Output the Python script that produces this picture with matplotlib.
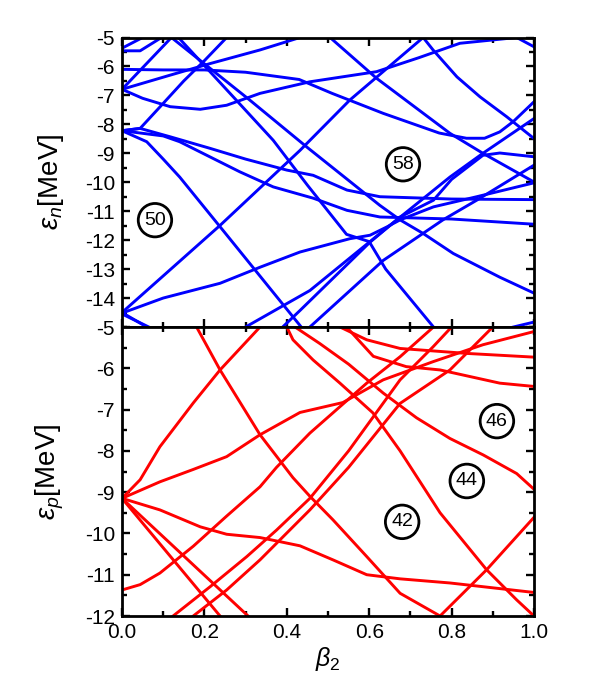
import matplotlib
matplotlib.use("Agg")
import matplotlib.pyplot as plt
from matplotlib.ticker import MultipleLocator, FixedLocator

plt.rcParams['font.family'] = ['Liberation Sans', 'DejaVu Sans']
plt.rcParams['mathtext.fontset'] = 'custom'
plt.rcParams['mathtext.rm'] = 'Liberation Sans'
plt.rcParams['mathtext.it'] = 'Liberation Sans:italic'

# ---------------- neutron levels (top panel) ----------------
n_T1 = [(0.0, -5.37), (0.05, -5.0)]
n_T2 = [(0.0, -5.46), (0.044, -5.46), (0.096, -5.0)]
n_N1 = [(0.0, -6.79), (0.12, -5.0)]
n_N2 = [(0.0, -6.79), (0.117, -6.3), (0.214, -5.9), (0.335, -5.43), (0.432, -5.0)]
n_T3 = [(0.0, -6.1), (0.1, -6.12), (0.2, -6.12), (0.3, -6.2), (0.43, -6.45), (0.51, -6.93),
        (0.634, -7.62), (0.77, -8.3), (0.836, -8.48), (0.88, -8.48), (0.917, -8.26),
        (0.95, -7.9), (1.0, -7.22)]
n_T4 = [(0.0, -6.79), (0.05, -7.1), (0.117, -7.39), (0.19, -7.48), (0.254, -7.34),
        (0.335, -6.93), (0.456, -6.53), (0.618, -6.18), (0.72, -5.7), (0.82, -5.2),
        (0.958, -5.0), (1.0, -5.32)]
n_T5 = [(0.0, -8.22), (0.044, -8.14), (0.092, -7.4), (0.15, -6.5), (0.2, -5.8), (0.254, -5.0)]
n_T6 = [(0.137, -5.0), (0.27, -7.05), (0.367, -8.55), (0.45, -10.1), (0.545, -11.8),
        (0.60, -12.05), (0.64, -13.0), (0.756, -15.0)]
n_T8 = [(0.12, -5.0), (0.31, -7.16), (0.45, -8.8), (0.626, -10.8), (0.675, -11.3),
        (0.731, -11.77), (0.804, -12.46), (0.917, -13.28), (1.0, -13.83)]
n_T9 = [(0.505, -5.0), (0.618, -6.41), (0.796, -8.31), (0.876, -9.0), (1.0, -9.99)]
n_T10 = [(0.731, -5.0), (0.755, -5.43), (0.813, -6.36), (0.869, -7.05), (0.934, -7.74),
         (1.0, -8.49)]
n_A = [(0.0, -14.5), (0.238, -11.49), (0.432, -8.9), (0.553, -7.16), (0.731, -5.0)]
n_B = [(0.0, -14.52), (0.1, -14.0), (0.238, -13.49), (0.336, -12.93), (0.432, -12.41),
       (0.553, -11.95), (0.602, -11.83), (0.642, -11.55), (0.675, -11.3), (0.756, -10.85),
       (0.861, -10.5), (1.0, -10.02)]
n_C = [(0.0, -8.22), (0.06, -8.6), (0.1, -9.2), (0.14, -9.82), (0.245, -11.66), (0.435, -15.0)]
n_F = [(0.0, -8.22), (0.044, -8.14), (0.117, -8.43), (0.214, -8.83), (0.3, -9.2),
       (0.4, -9.58), (0.464, -9.76), (0.546, -10.27), (0.626, -10.5), (0.8, -10.58), (1.0, -10.6)]
n_G = [(0.0, -8.22), (0.1, -8.4), (0.14, -8.6), (0.22, -9.17), (0.286, -9.64), (0.367, -10.16),
       (0.464, -10.55), (0.546, -10.97), (0.626, -11.2), (0.8, -11.27), (1.0, -11.45)]
n_D1 = [(0.0, -14.5), (0.06, -15.0)]
n_D2 = [(0.0, -14.55), (0.065, -15.0)]
n_R1 = [(0.30, -15.0), (0.456, -13.74), (0.626, -11.77), (0.796, -9.82), (0.876, -9.0), (1.0, -7.8)]
n_R2 = [(0.39, -15.0), (0.432, -14.43), (0.602, -12.07), (0.675, -11.2), (0.756, -10.62),
        (0.8, -9.9), (0.876, -9.07), (0.917, -8.99), (1.0, -9.12)]
n_R3 = [(0.456, -15.0), (0.634, -12.7), (0.779, -11.3), (0.861, -10.62), (1.0, -9.41)]
n_R4 = [(0.95, -15.0), (1.0, -14.83)]

neutron_levels = [n_T1, n_T2, n_N1, n_N2, n_T3, n_T4, n_T5, n_T6, n_T8, n_T9, n_T10,
                  n_A, n_B, n_C, n_F, n_G, n_D1, n_D2, n_R1, n_R2, n_R3, n_R4]

# ---------------- proton levels (bottom panel) ----------------
p_P1 = [(0.0, -9.15), (0.044, -8.7), (0.092, -7.9), (0.173, -6.84), (0.238, -6.04), (0.335, -5.0)]
p_P2 = [(0.0, -9.15), (0.092, -8.75), (0.173, -8.45), (0.254, -8.14), (0.335, -7.61),
        (0.432, -7.07), (0.536, -6.83), (0.634, -6.28), (0.755, -5.84), (0.876, -5.43), (1.0, -5.11)]
p_P3 = [(0.0, -9.15), (0.092, -9.43), (0.19, -9.84), (0.254, -10.02), (0.335, -10.1),
        (0.432, -10.3), (0.512, -10.64), (0.594, -11.0), (0.675, -11.1), (0.796, -11.2), (1.0, -11.43)]
p_P4 = [(0.0, -9.15), (0.238, -12.0)]
p_P5 = [(0.0, -9.15), (0.306, -12.0)]
p_P6 = [(0.0, -11.37), (0.044, -11.24), (0.092, -10.96), (0.173, -10.31), (0.254, -9.58),
        (0.335, -8.87), (0.375, -8.4), (0.456, -7.57), (0.594, -6.36), (0.675, -5.72), (0.756, -5.0)]
p_P7 = [(0.181, -5.0), (0.238, -6.04), (0.335, -7.61), (0.415, -8.65), (0.456, -9.1),
        (0.512, -9.67), (0.594, -10.56), (0.675, -11.45), (0.772, -12.0)]
p_P10 = [(0.772, -12.0), (0.885, -10.88), (1.0, -9.61)]
p_P11 = [(0.124, -12.0), (0.214, -11.29), (0.303, -10.56), (0.375, -9.92), (0.456, -9.15),
         (0.55, -8.0), (0.675, -6.28), (0.755, -5.48), (0.8, -5.0)]
p_P12 = [(0.173, -12.0), (0.254, -11.37), (0.335, -10.64), (0.415, -9.84), (0.456, -9.43),
         (0.55, -8.4), (0.675, -6.85), (0.796, -6.04), (0.9, -5.0)]
p_Pa = [(0.42, -5.0), (0.48, -5.4), (0.55, -5.9), (0.634, -6.6), (0.715, -7.2), (0.796, -7.7),
        (0.877, -8.1), (0.958, -8.55), (1.0, -8.93)]
p_Pb = [(0.40, -5.0), (0.415, -5.31), (0.464, -5.8), (0.529, -6.36), (0.609, -7.08),
        (0.675, -8.0), (0.772, -9.5), (0.885, -10.88), (0.958, -11.61), (1.0, -12.0)]
p_Pc = [(0.545, -5.0), (0.61, -5.71), (0.69, -5.96), (0.772, -6.04), (0.917, -6.36), (1.0, -6.44)]
p_Pd = [(0.529, -5.0), (0.594, -5.31), (0.675, -5.52), (0.837, -5.64), (1.0, -5.73)]

proton_levels = [p_P1, p_P2, p_P3, p_P4, p_P5, p_P6, p_P7, p_P10, p_P11, p_P12,
                 p_Pa, p_Pb, p_Pc, p_Pd]

# shell-gap labels
n_gaps = [("50", 0.08, -11.31), ("58", 0.682, -9.38)]
p_gaps = [("46", 0.91, -7.28), ("44", 0.837, -8.73), ("42", 0.68, -9.72)]

x_ticks = [0.0, 0.2, 0.4, 0.6, 0.8, 1.0]
x_ticklabels = ["0.0", "0.2", "0.4", "0.6", "0.8", "1.0"]
n_yticks = [-5, -6, -7, -8, -9, -10, -11, -12, -13, -14]
p_yticks = [-5, -6, -7, -8, -9, -10, -11, -12]

W, H = 596, 684
fig = plt.figure(figsize=(W / 100, H / 100), dpi=100)
left, right = 122 / W, 534 / W
top_y, mid_y, bot_y = 1 - 37.5 / H, 1 - 327 / H, 1 - 616 / H
ax1 = fig.add_axes([left, mid_y, right - left, top_y - mid_y])
ax2 = fig.add_axes([left, bot_y, right - left, mid_y - bot_y])

lw = 2.1
for lev in neutron_levels:
    xs, ys = zip(*lev)
    ax1.plot(xs, ys, color='#0000ff', lw=lw, solid_joinstyle='round', clip_on=True)
for lev in proton_levels:
    xs, ys = zip(*lev)
    ax2.plot(xs, ys, color='#ff0000', lw=lw, solid_joinstyle='round', clip_on=True)

ax1.set_xlim(0, 1)
ax1.set_ylim(-15, -5)
ax2.set_xlim(0, 1)
ax2.set_ylim(-12, -5)

fs = 15
for ax in (ax1, ax2):
    for s in ax.spines.values():
        s.set_linewidth(2.0)
    ax.xaxis.set_major_locator(FixedLocator(x_ticks))
    ax.xaxis.set_minor_locator(MultipleLocator(0.1))
    ax.yaxis.set_minor_locator(MultipleLocator(0.5))
    ax.tick_params(which='major', direction='in', length=6, width=1.7,
                   top=True, right=True, labelsize=fs, pad=5)
    ax.tick_params(which='minor', direction='in', length=3.5, width=1.7,
                   top=True, right=True)

ax1.yaxis.set_major_locator(FixedLocator(n_yticks))
ax1.set_yticklabels([str(v) for v in n_yticks])
ax1.set_xticklabels([])
ax2.yaxis.set_major_locator(FixedLocator(p_yticks))
ax2.set_yticklabels([str(v) for v in p_yticks])
ax2.set_xticklabels(x_ticklabels)

ax1.set_ylabel(r'$\epsilon_n$[MeV]', fontsize=20)
ax2.set_ylabel(r'$\epsilon_p$[MeV]', fontsize=20)
ax2.set_xlabel(r'$\beta_2$', fontsize=18, labelpad=2)
ax1.yaxis.set_label_coords(-0.135, 0.5)
ax2.yaxis.set_label_coords(-0.135, 0.5)

for ax, gaps in ((ax1, n_gaps), (ax2, p_gaps)):
    for txt, gx, gy in gaps:
        ax.text(gx, gy, txt, fontsize=14, ha='center', va='center', zorder=5,
                bbox=dict(boxstyle='circle,pad=0.3', fc='white', ec='black', lw=2.0))

fig.savefig('out.png', dpi=100)
